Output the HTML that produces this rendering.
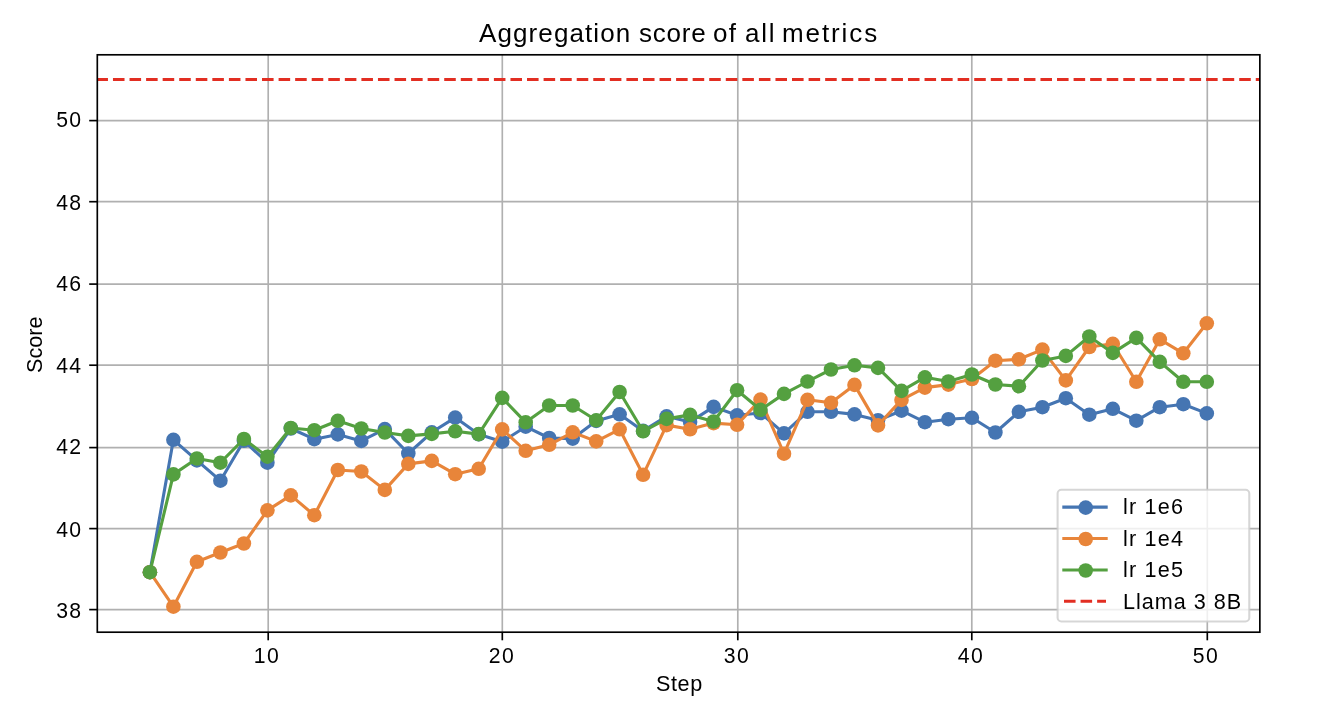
<!DOCTYPE html><html><head><meta charset="utf-8"><title>Aggregation score of all metrics</title><style>
html,body{margin:0;padding:0;background:#fff;}
body{width:1333px;height:702px;position:relative;overflow:hidden;font-family:"Liberation Sans",sans-serif;color:#000000;}
.t{position:absolute;white-space:nowrap;line-height:1;font-family:"Liberation Sans",sans-serif;will-change:transform;}
.title{font-size:26px;top:20px;}
.xt{font-size:21.2px;letter-spacing:1.4px;top:645px;width:60px;text-align:center;}
.yt{font-size:21.2px;letter-spacing:1.4px;left:0px;width:82.5px;text-align:right;}
.xl{font-size:21.6px;letter-spacing:0.6px;left:656px;top:673px;}
.yl{font-size:21.6px;letter-spacing:0px;left:0;top:0;transform-origin:0 0;transform:translate(24px,373px) rotate(-90deg);}
.lg{font-size:21.6px;letter-spacing:1.2px;left:1123px;}
</style></head><body>
<svg width="1333" height="702" viewBox="0 0 1333 702" style="position:absolute;left:0;top:0">
<rect x="0" y="0" width="1333" height="702" fill="#ffffff"/>
<g stroke="#b0b0b0" stroke-width="1.67"><line x1="268.2" y1="54.8" x2="268.2" y2="632.2"/><line x1="502.3" y1="54.8" x2="502.3" y2="632.2"/><line x1="737.8" y1="54.8" x2="737.8" y2="632.2"/><line x1="971.8" y1="54.8" x2="971.8" y2="632.2"/><line x1="1207.3" y1="54.8" x2="1207.3" y2="632.2"/><line x1="97.3" y1="120.6" x2="1259.85" y2="120.6"/><line x1="97.3" y1="201.7" x2="1259.85" y2="201.7"/><line x1="97.3" y1="284.1" x2="1259.85" y2="284.1"/><line x1="97.3" y1="365.2" x2="1259.85" y2="365.2"/><line x1="97.3" y1="447.6" x2="1259.85" y2="447.6"/><line x1="97.3" y1="528.6" x2="1259.85" y2="528.6"/><line x1="97.3" y1="609.6" x2="1259.85" y2="609.6"/></g>
<g stroke="#000" stroke-width="1.67"><line x1="268.2" y1="632.2" x2="268.2" y2="640.3"/><line x1="502.3" y1="632.2" x2="502.3" y2="640.3"/><line x1="737.8" y1="632.2" x2="737.8" y2="640.3"/><line x1="971.8" y1="632.2" x2="971.8" y2="640.3"/><line x1="1207.3" y1="632.2" x2="1207.3" y2="640.3"/><line x1="97.3" y1="120.6" x2="89.2" y2="120.6"/><line x1="97.3" y1="201.7" x2="89.2" y2="201.7"/><line x1="97.3" y1="284.1" x2="89.2" y2="284.1"/><line x1="97.3" y1="365.2" x2="89.2" y2="365.2"/><line x1="97.3" y1="447.6" x2="89.2" y2="447.6"/><line x1="97.3" y1="528.6" x2="89.2" y2="528.6"/><line x1="97.3" y1="609.6" x2="89.2" y2="609.6"/></g>
<defs><clipPath id="ax"><rect x="97.3" y="54.8" width="1162.55" height="577.40"/></clipPath></defs>
<g clip-path="url(#ax)">
<polyline points="149.9,572.2 173.4,439.8 196.9,460.4 220.4,480.7 243.9,440.8 267.4,462.7 290.8,428.5 314.3,439.2 337.8,434.4 361.3,440.9 384.8,429.1 408.3,453.5 431.8,432.3 455.2,417.6 478.7,434.3 502.2,441.7 525.7,426.7 549.2,438.0 572.7,438.6 596.2,420.9 619.6,414.3 643.1,430.9 666.6,416.3 690.1,421.9 713.6,406.9 737.1,415.3 760.5,413.0 784.0,433.4 807.5,411.8 831.0,411.8 854.5,414.4 878.0,420.2 901.5,410.7 924.9,422.2 948.4,419.2 971.9,417.8 995.4,432.5 1018.9,411.8 1042.4,407.2 1065.8,398.2 1089.3,414.7 1112.8,408.8 1136.3,420.7 1159.8,407.2 1183.3,404.2 1206.8,413.4" fill="none" stroke="#4575b2" stroke-width="3.1" stroke-linejoin="round" stroke-linecap="butt"/>
<g fill="#4575b2"><circle cx="149.9" cy="572.2" r="7.3"/><circle cx="173.4" cy="439.8" r="7.3"/><circle cx="196.9" cy="460.4" r="7.3"/><circle cx="220.4" cy="480.7" r="7.3"/><circle cx="243.9" cy="440.8" r="7.3"/><circle cx="267.4" cy="462.7" r="7.3"/><circle cx="290.8" cy="428.5" r="7.3"/><circle cx="314.3" cy="439.2" r="7.3"/><circle cx="337.8" cy="434.4" r="7.3"/><circle cx="361.3" cy="440.9" r="7.3"/><circle cx="384.8" cy="429.1" r="7.3"/><circle cx="408.3" cy="453.5" r="7.3"/><circle cx="431.8" cy="432.3" r="7.3"/><circle cx="455.2" cy="417.6" r="7.3"/><circle cx="478.7" cy="434.3" r="7.3"/><circle cx="502.2" cy="441.7" r="7.3"/><circle cx="525.7" cy="426.7" r="7.3"/><circle cx="549.2" cy="438.0" r="7.3"/><circle cx="572.7" cy="438.6" r="7.3"/><circle cx="596.2" cy="420.9" r="7.3"/><circle cx="619.6" cy="414.3" r="7.3"/><circle cx="643.1" cy="430.9" r="7.3"/><circle cx="666.6" cy="416.3" r="7.3"/><circle cx="690.1" cy="421.9" r="7.3"/><circle cx="713.6" cy="406.9" r="7.3"/><circle cx="737.1" cy="415.3" r="7.3"/><circle cx="760.5" cy="413.0" r="7.3"/><circle cx="784.0" cy="433.4" r="7.3"/><circle cx="807.5" cy="411.8" r="7.3"/><circle cx="831.0" cy="411.8" r="7.3"/><circle cx="854.5" cy="414.4" r="7.3"/><circle cx="878.0" cy="420.2" r="7.3"/><circle cx="901.5" cy="410.7" r="7.3"/><circle cx="924.9" cy="422.2" r="7.3"/><circle cx="948.4" cy="419.2" r="7.3"/><circle cx="971.9" cy="417.8" r="7.3"/><circle cx="995.4" cy="432.5" r="7.3"/><circle cx="1018.9" cy="411.8" r="7.3"/><circle cx="1042.4" cy="407.2" r="7.3"/><circle cx="1065.8" cy="398.2" r="7.3"/><circle cx="1089.3" cy="414.7" r="7.3"/><circle cx="1112.8" cy="408.8" r="7.3"/><circle cx="1136.3" cy="420.7" r="7.3"/><circle cx="1159.8" cy="407.2" r="7.3"/><circle cx="1183.3" cy="404.2" r="7.3"/><circle cx="1206.8" cy="413.4" r="7.3"/></g>

<polyline points="149.9,572.2 173.4,606.7 196.9,561.8 220.4,552.5 243.9,543.5 267.4,510.4 290.8,495.4 314.3,515.2 337.8,470.0 361.3,471.5 384.8,489.9 408.3,463.9 431.8,460.9 455.2,474.2 478.7,468.8 502.2,429.4 525.7,450.8 549.2,444.8 572.7,432.3 596.2,441.4 619.6,429.3 643.1,474.8 666.6,425.1 690.1,429.3 713.6,423.1 737.1,424.8 760.5,399.6 784.0,453.7 807.5,399.8 831.0,402.8 854.5,384.9 878.0,425.4 901.5,399.9 924.9,387.6 948.4,384.6 971.9,379.0 995.4,360.7 1018.9,359.3 1042.4,349.6 1065.8,380.4 1089.3,347.0 1112.8,343.8 1136.3,381.8 1159.8,339.3 1183.3,353.3 1206.8,323.3" fill="none" stroke="#e8853a" stroke-width="3.1" stroke-linejoin="round" stroke-linecap="butt"/>
<g fill="#e8853a"><circle cx="149.9" cy="572.2" r="7.3"/><circle cx="173.4" cy="606.7" r="7.3"/><circle cx="196.9" cy="561.8" r="7.3"/><circle cx="220.4" cy="552.5" r="7.3"/><circle cx="243.9" cy="543.5" r="7.3"/><circle cx="267.4" cy="510.4" r="7.3"/><circle cx="290.8" cy="495.4" r="7.3"/><circle cx="314.3" cy="515.2" r="7.3"/><circle cx="337.8" cy="470.0" r="7.3"/><circle cx="361.3" cy="471.5" r="7.3"/><circle cx="384.8" cy="489.9" r="7.3"/><circle cx="408.3" cy="463.9" r="7.3"/><circle cx="431.8" cy="460.9" r="7.3"/><circle cx="455.2" cy="474.2" r="7.3"/><circle cx="478.7" cy="468.8" r="7.3"/><circle cx="502.2" cy="429.4" r="7.3"/><circle cx="525.7" cy="450.8" r="7.3"/><circle cx="549.2" cy="444.8" r="7.3"/><circle cx="572.7" cy="432.3" r="7.3"/><circle cx="596.2" cy="441.4" r="7.3"/><circle cx="619.6" cy="429.3" r="7.3"/><circle cx="643.1" cy="474.8" r="7.3"/><circle cx="666.6" cy="425.1" r="7.3"/><circle cx="690.1" cy="429.3" r="7.3"/><circle cx="713.6" cy="423.1" r="7.3"/><circle cx="737.1" cy="424.8" r="7.3"/><circle cx="760.5" cy="399.6" r="7.3"/><circle cx="784.0" cy="453.7" r="7.3"/><circle cx="807.5" cy="399.8" r="7.3"/><circle cx="831.0" cy="402.8" r="7.3"/><circle cx="854.5" cy="384.9" r="7.3"/><circle cx="878.0" cy="425.4" r="7.3"/><circle cx="901.5" cy="399.9" r="7.3"/><circle cx="924.9" cy="387.6" r="7.3"/><circle cx="948.4" cy="384.6" r="7.3"/><circle cx="971.9" cy="379.0" r="7.3"/><circle cx="995.4" cy="360.7" r="7.3"/><circle cx="1018.9" cy="359.3" r="7.3"/><circle cx="1042.4" cy="349.6" r="7.3"/><circle cx="1065.8" cy="380.4" r="7.3"/><circle cx="1089.3" cy="347.0" r="7.3"/><circle cx="1112.8" cy="343.8" r="7.3"/><circle cx="1136.3" cy="381.8" r="7.3"/><circle cx="1159.8" cy="339.3" r="7.3"/><circle cx="1183.3" cy="353.3" r="7.3"/><circle cx="1206.8" cy="323.3" r="7.3"/></g>

<polyline points="149.9,572.2 173.4,474.4 196.9,458.5 220.4,462.7 243.9,439.0 267.4,456.7 290.8,428.0 314.3,430.2 337.8,420.8 361.3,428.5 384.8,432.5 408.3,435.9 431.8,433.9 455.2,431.3 478.7,434.1 502.2,397.9 525.7,422.3 549.2,405.5 572.7,405.5 596.2,420.3 619.6,392.0 643.1,431.3 666.6,418.9 690.1,414.9 713.6,421.5 737.1,390.2 760.5,409.8 784.0,393.9 807.5,381.5 831.0,369.5 854.5,365.3 878.0,367.9 901.5,390.9 924.9,377.3 948.4,381.5 971.9,374.5 995.4,384.5 1018.9,386.2 1042.4,360.5 1065.8,355.9 1089.3,336.5 1112.8,352.9 1136.3,337.9 1159.8,361.9 1183.3,381.8 1206.8,381.8" fill="none" stroke="#54a040" stroke-width="3.1" stroke-linejoin="round" stroke-linecap="butt"/>
<g fill="#54a040"><circle cx="149.9" cy="572.2" r="7.3"/><circle cx="173.4" cy="474.4" r="7.3"/><circle cx="196.9" cy="458.5" r="7.3"/><circle cx="220.4" cy="462.7" r="7.3"/><circle cx="243.9" cy="439.0" r="7.3"/><circle cx="267.4" cy="456.7" r="7.3"/><circle cx="290.8" cy="428.0" r="7.3"/><circle cx="314.3" cy="430.2" r="7.3"/><circle cx="337.8" cy="420.8" r="7.3"/><circle cx="361.3" cy="428.5" r="7.3"/><circle cx="384.8" cy="432.5" r="7.3"/><circle cx="408.3" cy="435.9" r="7.3"/><circle cx="431.8" cy="433.9" r="7.3"/><circle cx="455.2" cy="431.3" r="7.3"/><circle cx="478.7" cy="434.1" r="7.3"/><circle cx="502.2" cy="397.9" r="7.3"/><circle cx="525.7" cy="422.3" r="7.3"/><circle cx="549.2" cy="405.5" r="7.3"/><circle cx="572.7" cy="405.5" r="7.3"/><circle cx="596.2" cy="420.3" r="7.3"/><circle cx="619.6" cy="392.0" r="7.3"/><circle cx="643.1" cy="431.3" r="7.3"/><circle cx="666.6" cy="418.9" r="7.3"/><circle cx="690.1" cy="414.9" r="7.3"/><circle cx="713.6" cy="421.5" r="7.3"/><circle cx="737.1" cy="390.2" r="7.3"/><circle cx="760.5" cy="409.8" r="7.3"/><circle cx="784.0" cy="393.9" r="7.3"/><circle cx="807.5" cy="381.5" r="7.3"/><circle cx="831.0" cy="369.5" r="7.3"/><circle cx="854.5" cy="365.3" r="7.3"/><circle cx="878.0" cy="367.9" r="7.3"/><circle cx="901.5" cy="390.9" r="7.3"/><circle cx="924.9" cy="377.3" r="7.3"/><circle cx="948.4" cy="381.5" r="7.3"/><circle cx="971.9" cy="374.5" r="7.3"/><circle cx="995.4" cy="384.5" r="7.3"/><circle cx="1018.9" cy="386.2" r="7.3"/><circle cx="1042.4" cy="360.5" r="7.3"/><circle cx="1065.8" cy="355.9" r="7.3"/><circle cx="1089.3" cy="336.5" r="7.3"/><circle cx="1112.8" cy="352.9" r="7.3"/><circle cx="1136.3" cy="337.9" r="7.3"/><circle cx="1159.8" cy="361.9" r="7.3"/><circle cx="1183.3" cy="381.8" r="7.3"/><circle cx="1206.8" cy="381.8" r="7.3"/></g>

<line x1="97.3" y1="79.5" x2="1259.85" y2="79.5" stroke="#e22e22" stroke-width="3.1" stroke-dasharray="11.5625 5" stroke-dashoffset="0.9"/>
</g>
<rect x="97.3" y="54.8" width="1162.55" height="577.40" fill="none" stroke="#000" stroke-width="1.67"/>
<rect x="1057.6" y="489.8" width="191.7" height="131.7" rx="3.8" ry="3.8" fill="#ffffff" fill-opacity="0.8" stroke="#cccccc" stroke-opacity="0.8" stroke-width="2.08"/>
<line x1="1062.3" y1="507.1" x2="1107.7" y2="507.1" stroke="#4575b2" stroke-width="3.1"/><circle cx="1085.7" cy="507.6" r="7.3" fill="#4575b2"/>
<line x1="1062.3" y1="538.5" x2="1107.7" y2="538.5" stroke="#e8853a" stroke-width="3.1"/><circle cx="1085.7" cy="539.0" r="7.3" fill="#e8853a"/>
<line x1="1062.3" y1="570.0" x2="1107.7" y2="570.0" stroke="#54a040" stroke-width="3.1"/><circle cx="1085.7" cy="570.5" r="7.3" fill="#54a040"/>
<line x1="1064" y1="601.3" x2="1106" y2="601.3" stroke="#e22e22" stroke-width="3.1" stroke-dasharray="11.56 5"/>
</svg>
<div id="title"><span class="t title" style="left:478.9px;letter-spacing:1.1px">Aggregation</span><span class="t title" style="left:638.6px;letter-spacing:0.8px">score</span><span class="t title" style="left:713.3px;letter-spacing:1.3px">of</span><span class="t title" style="left:745.0px;letter-spacing:1.75px">all</span><span class="t title" style="left:782.4px;letter-spacing:1.9px">metrics</span></div>
<div class="t xt" style="left:237px">10</div>
<div class="t xt" style="left:472px">20</div>
<div class="t xt" style="left:707px">30</div>
<div class="t xt" style="left:941px">40</div>
<div class="t xt" style="left:1176px">50</div>
<div class="t yt" style="top:109.0px">50</div>
<div class="t yt" style="top:192.0px">48</div>
<div class="t yt" style="top:273.0px">46</div>
<div class="t yt" style="top:355.0px">44</div>
<div class="t yt" style="top:436.0px">42</div>
<div class="t yt" style="top:519.0px">40</div>
<div class="t yt" style="top:600.0px">38</div>
<div class="t xl" id="xl">Step</div>
<div class="t yl" id="yl">Score</div>
<div class="t lg" id="lg0" style="top:496.4px">lr 1e6</div>
<div class="t lg" id="lg1" style="top:527.8px">lr 1e4</div>
<div class="t lg" id="lg2" style="top:559.3px">lr 1e5</div>
<div class="t lg" id="lg3" style="top:590.8px;letter-spacing:1.0px">Llama 3 8B</div>
</body></html>
